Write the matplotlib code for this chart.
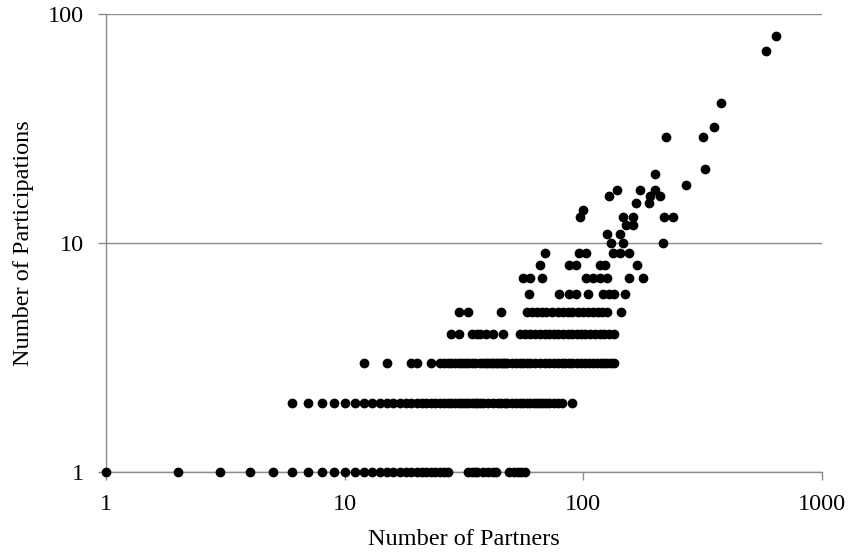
import matplotlib
matplotlib.use("Agg")
import matplotlib.pyplot as plt
from matplotlib.ticker import FixedLocator, NullLocator

plt.rcParams['font.family'] = ['Liberation Serif', 'DejaVu Serif']

# number of partners for each participation count
partners_p1 = [1, 2, 3, 4, 5, 6, 7, 8, 9, 10, 11, 12, 13, 14, 15, 16, 17, 18,
               19, 20, 21, 22, 23, 24, 25, 26, 27, 33, 34, 35, 36, 38, 40, 42,
               43, 49, 51, 53, 55, 57]
partners_p2 = [6, 7, 8, 9, 10, 11, 12, 13, 14, 15, 16, 17, 18, 19, 20, 21, 22,
               23, 24, 25, 26, 27, 28, 29, 30, 31, 32, 33, 34, 35, 36, 37, 38,
               40, 42, 44, 45, 47, 48, 50, 52, 54, 56, 58, 60, 62, 64, 66, 68,
               70, 72, 75, 78, 81, 90]
partners_p3 = [12, 15, 19, 20, 23, 25, 26, 27, 28, 29, 30, 31, 32, 33, 34, 35,
               37, 38, 39, 40, 41, 42, 43, 44, 45, 46, 47, 48, 50, 52, 54, 56,
               58, 60, 63, 66, 69, 72, 75, 78, 81, 84, 87, 90, 94, 98, 102,
               106, 110, 114, 118, 122, 126, 130, 134]
partners_p4 = [28, 30, 34, 36, 37, 39, 42, 46, 54, 57, 60, 63, 66, 69, 72, 75,
               78, 82, 86, 90, 94, 98, 102, 107, 112, 117, 122, 128, 135]
partners_p5 = [30, 33, 45, 58, 61, 64, 67, 70, 74, 78, 82, 86, 90, 95, 100,
               105, 110, 115, 120, 126, 144]
partners_p6 = [59, 79, 87, 93, 105, 121, 128, 135, 149]
partners_p7 = [56, 60, 67, 103, 110, 117, 125, 156, 178]
partners_p8 = [66, 87, 93, 117, 123, 168]
partners_p9 = [69, 96, 103, 133, 142, 156]
partners_p10 = [131, 147, 215]
partners_p11 = [126, 142]
partners_p12 = [151, 162]
partners_p13 = [97, 147, 162, 218, 238]
partners_p14 = [100]
partners_p15 = [166, 189]
partners_p16 = [128, 190, 210]
partners_p17 = [138, 173, 200]
partners_p18 = [268]
partners_p20 = [200]
partners_p21 = [322]
partners_p29 = [221, 316]
partners_p32 = [352]
partners_p41 = [376]
partners_p69 = [582]
partners_p80 = [641]

rows = {1: partners_p1, 2: partners_p2, 3: partners_p3, 4: partners_p4,
        5: partners_p5, 6: partners_p6, 7: partners_p7, 8: partners_p8,
        9: partners_p9, 10: partners_p10, 11: partners_p11, 12: partners_p12,
        13: partners_p13, 14: partners_p14, 15: partners_p15, 16: partners_p16,
        17: partners_p17, 18: partners_p18, 20: partners_p20, 21: partners_p21,
        29: partners_p29, 32: partners_p32, 41: partners_p41, 69: partners_p69,
        80: partners_p80}

xs, ys = [], []
for part, plist in rows.items():
    xs += plist
    ys += [part] * len(plist)

fig = plt.figure(figsize=(8.51, 5.57), dpi=100)
ax = fig.add_axes([0.1246, 0.1526, 0.8414, 0.8223])

ax.scatter(xs, ys, s=36, color='black', zorder=3, clip_on=False)

ax.set_xscale('log')
ax.set_yscale('log')
ax.set_xlim(1, 1000)
ax.set_ylim(1, 100)

ax.xaxis.set_major_locator(FixedLocator([1, 10, 100, 1000]))
ax.yaxis.set_major_locator(FixedLocator([1, 10, 100]))
ax.xaxis.set_minor_locator(NullLocator())
ax.yaxis.set_minor_locator(NullLocator())
ax.set_xticklabels(['1', '10', '100', '1000'])
ax.set_yticklabels(['1', '10', '100'])

ax.grid(axis='y', color='#8c8c8c', linewidth=1)
ax.set_axisbelow(True)
for side in ['top', 'right']:
    ax.spines[side].set_visible(False)
for side in ['left', 'bottom']:
    ax.spines[side].set_color('#8c8c8c')
    ax.spines[side].set_linewidth(1)

ax.tick_params(axis='both', colors='#8c8c8c', labelcolor='black',
               labelsize=17.5, length=6, width=1, direction='out')
ax.tick_params(axis='y', pad=10)
ax.tick_params(axis='x', pad=10)

ax.set_xlabel("Number of Partners", fontsize=17.5, labelpad=10)
ax.set_ylabel("Number of Participations", fontsize=17.5, labelpad=10)

fig.savefig("out.png", dpi=100)
